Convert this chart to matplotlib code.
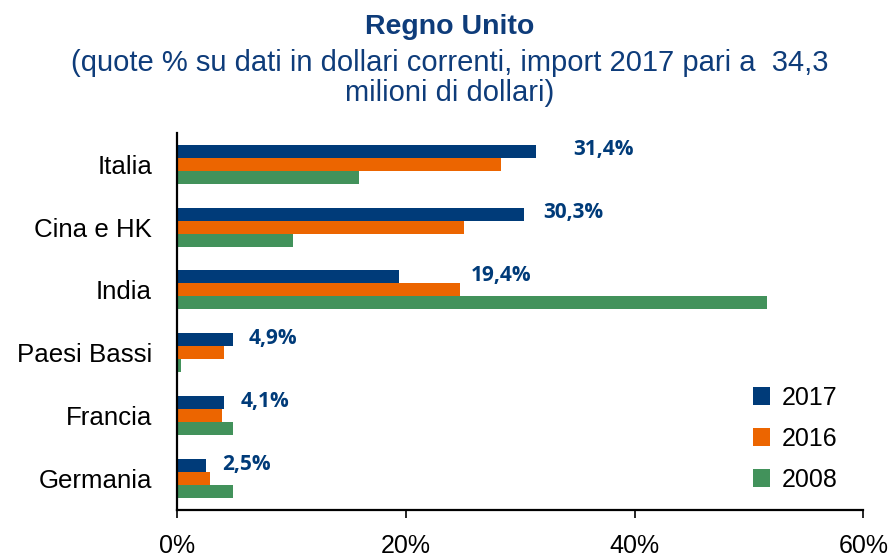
import matplotlib
matplotlib.use("Agg")
import matplotlib.pyplot as plt
import numpy as np

# data
countries = ["Italia", "Cina e HK", "India", "Paesi Bassi", "Francia", "Germania"]
share_2017 = [31.4, 30.3, 19.4, 4.9, 4.1, 2.5]
share_2016 = [28.3, 25.1, 24.7, 4.1, 3.9, 2.9]
share_2008 = [15.9, 10.1, 51.6, 0.35, 4.9, 4.9]
value_labels = ["31,4%", "30,3%", "19,4%", "4,9%", "4,1%", "2,5%"]
x_ticks = [0, 20, 40, 60]
x_tick_labels = ["0%", "20%", "40%", "60%"]

# style
navy = "#003B79"
orange = "#EC6500"
green = "#42925B"
title_color = "#0E3C7A"
label_offset_pt = [27, 14, 52, 11, 12, 12]

plt.rcParams["font.family"] = ["Liberation Sans", "DejaVu Sans"]

fig = plt.figure(figsize=(8.9, 5.58), dpi=100)
ax = fig.add_axes([0.199, 0.086, 0.771, 0.676])

y = np.arange(len(countries))
h = 0.207
ax.barh(y - h, share_2017, height=h, color=navy, label="2017")
ax.barh(y, share_2016, height=h, color=orange, label="2016")
ax.barh(y + h, share_2008, height=h, color=green, label="2008")

for yi, v, txt, off in zip(y, share_2017, value_labels, label_offset_pt):
    ax.annotate(txt, xy=(v, yi - h), xytext=(off, 1), textcoords="offset points",
                ha="left", va="center", fontsize=15, fontweight="bold",
                color=navy, family=["Open Sans", "DejaVu Sans"])

ax.set_xlim(0, 60)
ax.set_ylim(len(countries) - 0.5, -0.5)
ax.set_xticks(x_ticks)
ax.set_xticklabels(x_tick_labels, fontsize=18)
ax.set_yticks(y)
ax.set_yticklabels(countries, fontsize=18.6)
ax.tick_params(axis="y", length=0, pad=18)
ax.tick_params(axis="x", length=6, width=1.2, pad=11)

for side in ["top", "right"]:
    ax.spines[side].set_visible(False)
for side in ["left", "bottom"]:
    ax.spines[side].set_linewidth(1.6)
    ax.spines[side].set_color("black")

ax.legend(loc="lower right", bbox_to_anchor=(0.962, 0.048), frameon=False,
          fontsize=18, handlelength=0.7, handleheight=0.7, handletextpad=0.45,
          labelspacing=0.68, borderpad=0, borderaxespad=0)

fig.text(0.505, 0.952, "Regno Unito", ha="center", va="center", fontsize=20.5,
         fontweight="bold", color=title_color)
fig.text(0.505, 0.860,
         "(quote % su dati in dollari correnti, import 2017 pari a  34,3\nmilioni di dollari)",
         ha="center", va="center", fontsize=21, color=title_color, linespacing=1.08)

fig.savefig("out.png", dpi=100)
